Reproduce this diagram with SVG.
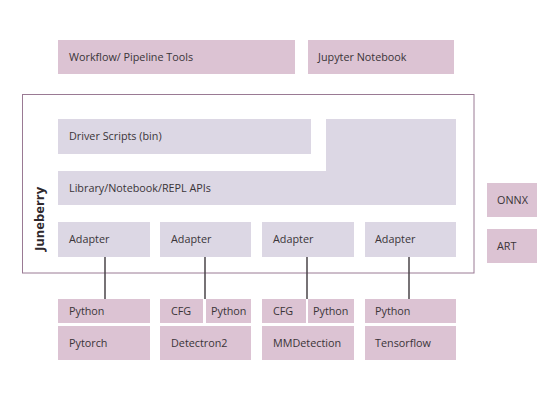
<svg xmlns="http://www.w3.org/2000/svg" width="560" height="400" viewBox="0 0 560 400">
<style>
.pk{fill:#dcc3d3}
.lv{fill:#dcd7e4}
text{font-family:"Open Sans","Noto Sans",sans-serif;font-size:10.8px;fill:#3a3438}
.conn line{stroke:#4a4448;stroke-width:1.5}
</style>
<rect width="560" height="400" fill="#ffffff"/>
<g id="workflow"><rect class="pk" x="58" y="40" width="237" height="34"/><text x="69" y="61">Workflow/ Pipeline Tools</text></g>
<g id="jupyter"><rect class="pk" x="308" y="40" width="146" height="34"/><text x="318" y="61">Jupyter Notebook</text></g>
<g id="juneberry"><rect x="22.5" y="94.5" width="451.5" height="178.5" fill="none" stroke="#9a7a94" stroke-width="1"/><text transform="translate(44,219) rotate(-90)" text-anchor="middle" style="font-weight:bold;font-size:13px;fill:#2e282c">Juneberry</text></g>
<g id="driver"><rect class="lv" x="58" y="119" width="253" height="35"/><text x="69" y="140">Driver Scripts (bin)</text></g>
<g id="library"><polygon class="lv" points="58,171 326,171 326,119 456,119 456,205 58,205"/><text x="69" y="192">Library/Notebook/REPL APIs</text></g>
<g id="onnx"><rect class="pk" x="487" y="183" width="50" height="34"/><text x="497" y="204">ONNX</text></g>
<g id="art"><rect class="pk" x="487" y="229" width="50" height="34"/><text x="497" y="250">ART</text></g>
<g id="adapter1"><rect class="lv" x="58" y="222" width="92" height="35"/><text x="69" y="243">Adapter</text></g>
<g id="adapter2"><rect class="lv" x="160" y="222" width="91" height="35"/><text x="171" y="243">Adapter</text></g>
<g id="adapter3"><rect class="lv" x="262" y="222" width="92" height="35"/><text x="273" y="243">Adapter</text></g>
<g id="adapter4"><rect class="lv" x="365" y="222" width="91" height="35"/><text x="375" y="243">Adapter</text></g>
<g id="connectors" class="conn">
<line x1="105" y1="257" x2="105" y2="299"/>
<line x1="205" y1="257" x2="205" y2="299"/>
<line x1="307" y1="257" x2="307" y2="299"/>
<line x1="409" y1="257" x2="409" y2="299"/>
</g>
<g id="python1"><rect class="pk" x="58" y="299" width="92" height="24"/><text x="69" y="315">Python</text></g>
<g id="pytorch"><rect class="pk" x="58" y="326" width="92" height="34"/><text x="69" y="347">Pytorch</text></g>
<g id="cfg2"><rect class="pk" x="160" y="299" width="43" height="24"/><text x="171" y="315">CFG</text></g>
<g id="python2"><rect class="pk" x="206" y="299" width="45" height="24"/><text x="211" y="315">Python</text></g>
<g id="detectron2"><rect class="pk" x="160" y="326" width="91" height="34"/><text x="171" y="347">Detectron2</text></g>
<g id="cfg3"><rect class="pk" x="262" y="299" width="44" height="24"/><text x="273" y="315">CFG</text></g>
<g id="python3"><rect class="pk" x="308" y="299" width="46" height="24"/><text x="313" y="315">Python</text></g>
<g id="mmdetection"><rect class="pk" x="262" y="326" width="92" height="34"/><text x="273" y="347">MMDetection</text></g>
<g id="python4"><rect class="pk" x="365" y="299" width="91" height="24"/><text x="375" y="315">Python</text></g>
<g id="tensorflow"><rect class="pk" x="365" y="326" width="91" height="34"/><text x="375" y="347">Tensorflow</text></g>
</svg>
